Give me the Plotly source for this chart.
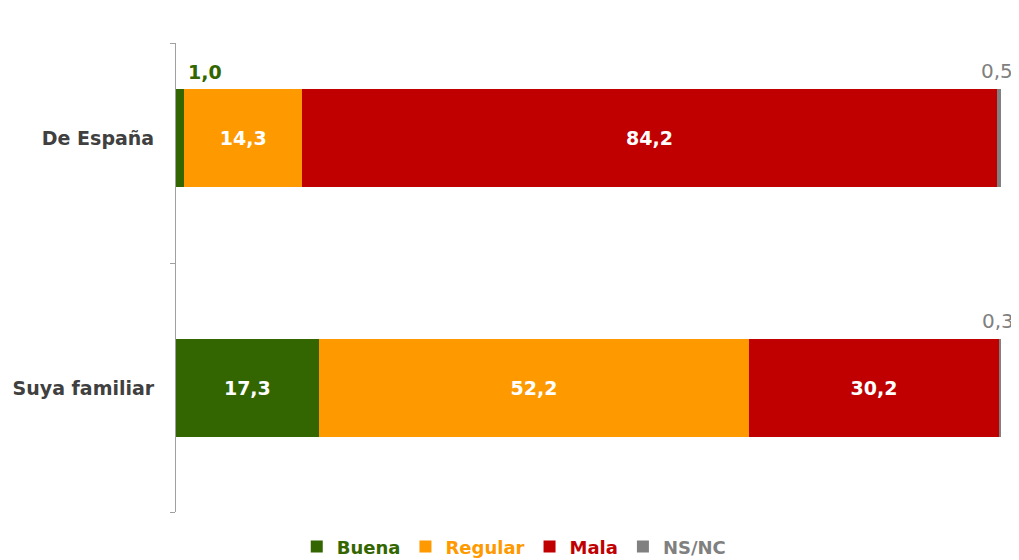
import plotly.graph_objects as go

categories = ["Suya familiar", "De España"]
series_names = ["Buena", "Regular", "Mala", "NS/NC"]
buena = [17.3, 1.0]
regular = [52.2, 14.3]
mala = [30.2, 84.2]
nsnc = [0.3, 0.5]
colors = ["#336600", "#FF9900", "#C00000", "#808080"]

values = [buena, regular, mala, nsnc]
ypos = [0, 1]

def fmt(v):
    return f"{v:.1f}".replace(".", ",")

fig = go.Figure()
for name, vals, col in zip(series_names, values, colors):
    texts = [f"<b>{fmt(v)}</b>" if v >= 5 else "" for v in vals]
    fig.add_trace(go.Bar(
        y=ypos, x=vals, orientation="h", name=f"<span style='color:{col}'><b>{name}</b></span>",
        marker=dict(color=col, line=dict(width=0)), width=0.39,
        text=texts, textposition="inside", insidetextanchor="middle",
        textfont=dict(color="white", size=19, family="DejaVu Sans"),
        textangle=0, cliponaxis=False,
    ))

# outside labels for small segments
bases = [0.0, 0.0]
for si, (vals, col) in enumerate(zip(values, colors)):
    for i, v in enumerate(vals):
        if v < 5:
            if si == 0:
                fig.add_annotation(x=bases[i], y=ypos[i] + 0.195, text=f"<b>{fmt(v)}</b>",
                                   xanchor="left", yanchor="bottom", xshift=10, yshift=4,
                                   showarrow=False, font=dict(color=col, size=19, family="DejaVu Sans"))
            else:
                fig.add_annotation(x=bases[i] + v / 2, y=ypos[i] + 0.195, text=fmt(v),
                                   xanchor="center", yanchor="bottom", yshift=4, xshift=-2,
                                   showarrow=False, font=dict(color=col, size=20, family="DejaVu Sans"))
        bases[i] += v

fig.update_layout(
    barmode="stack",
    width=1011, height=552,
    margin=dict(l=168, r=18, t=35, b=48, autoexpand=False),
    paper_bgcolor="white", plot_bgcolor="white",
    showlegend=True,
    legend=dict(orientation="h", x=0.41, xanchor="center", y=-0.035, yanchor="top",
                font=dict(size=18, family="DejaVu Sans"), traceorder="normal",
                itemwidth=30, tracegroupgap=0),
    xaxis=dict(range=[0, 100], visible=False, fixedrange=True, automargin=False),
    yaxis=dict(range=[-0.496, 1.38], tickvals=ypos, ticktext=[f"<b>{c}</b>" for c in categories],
               showline=True, linecolor="#A0A0A0", linewidth=1, showgrid=False, zeroline=False,
               ticks="", ticklabelstandoff=17, automargin=False,
               tickfont=dict(size=19, color="#404040", family="DejaVu Sans"),
               minor=dict(tickvals=[-0.496, 0.5, 1.38], ticks="outside", ticklen=5,
                          tickcolor="#A0A0A0", showgrid=False)),
)

fig.write_html("out.html")
